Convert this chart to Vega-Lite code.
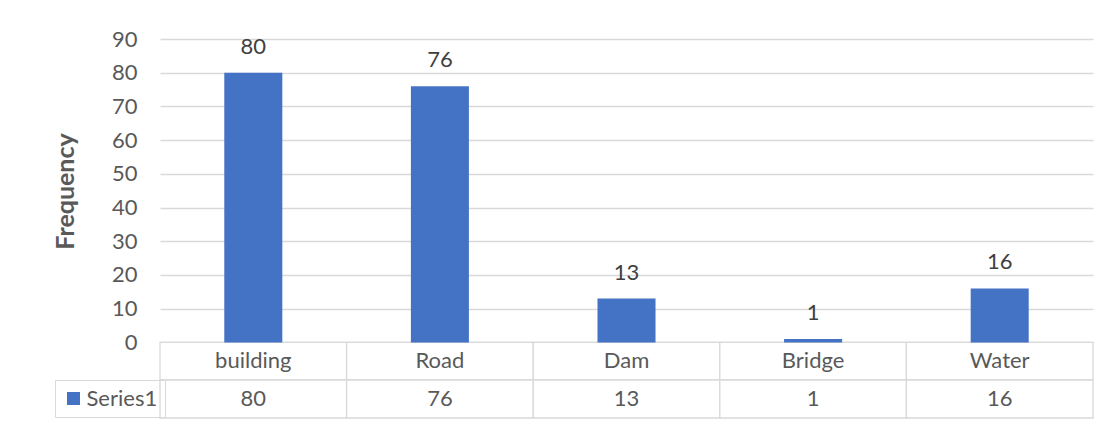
{
  "$schema": "https://vega.github.io/schema/vega-lite/v6.json",
  "width": 933,
  "height": 379,
  "autosize": {"type": "none"},
  "padding": {"left": 160, "top": 39, "right": 14, "bottom": 3},
  "background": "white",
  "config": {"view": {"stroke": null}, "font": "Lato"},
  "data": {"values": [
    {"category": "building", "value": 80},
    {"category": "Road", "value": 76},
    {"category": "Dam", "value": 13},
    {"category": "Bridge", "value": 1},
    {"category": "Water", "value": 16}
  ]},
  "encoding": {
    "x": {"field": "category", "type": "nominal", "sort": null, "scale": {"paddingInner": 0, "paddingOuter": 0}, "axis": null}
  },
  "layer": [
    {
      "mark": {"type": "rect", "fill": "white", "stroke": "#d9d9d9", "strokeWidth": 1.3},
      "encoding": {
        "y": {"datum": 0, "type": "quantitative",
          "scale": {"domain": [-22.43, 90], "nice": false, "zero": false},
          "axis": {"values": [0, 10, 20, 30, 40, 50, 60, 70, 80, 90], "title": "Frequency",
            "titleFontSize": 25, "titleFontWeight": "bold", "titleColor": "#595959", "titleFont": "Lato",
            "titleX": -95, "titleY": 152, "titleAngle": 270, "titleAlign": "center", "titleBaseline": "middle",
            "labelFontSize": 22, "labelColor": "#595959", "labelFont": "Lato", "labelPadding": 23,
            "ticks": false, "domain": false, "grid": true, "gridColor": "#d9d9d9", "gridWidth": 1.3}},
        "y2": {"datum": -11.16}
      }
    },
    {
      "mark": {"type": "rect", "fill": "white", "stroke": "#d9d9d9", "strokeWidth": 1.3},
      "encoding": {
        "y": {"datum": -11.16, "type": "quantitative"},
        "y2": {"datum": -22.43}
      }
    },
    {
      "mark": {"type": "bar", "width": {"band": 0.311}},
      "encoding": {
        "y": {"field": "value", "type": "quantitative"},
        "color": {"datum": "Series1", "scale": {"range": ["#4472C4"]},
          "legend": {"orient": "none", "legendX": -105, "legendY": 341, "title": null,
            "strokeColor": "#d9d9d9", "padding": 7.5, "symbolType": "square", "symbolSize": 169,
            "symbolStrokeWidth": 0, "labelFontSize": 22, "labelColor": "#595959", "labelFont": "Lato", "labelOffset": 2}}
      }
    },
    {
      "mark": {"type": "text", "dy": -26, "fontSize": 22, "color": "#404040", "baseline": "middle"},
      "encoding": {
        "y": {"field": "value", "type": "quantitative"},
        "text": {"field": "value"}
      }
    },
    {
      "mark": {"type": "text", "fontSize": 22, "color": "#595959", "baseline": "middle"},
      "encoding": {
        "y": {"datum": -5.58, "type": "quantitative"},
        "text": {"field": "category"}
      }
    },
    {
      "mark": {"type": "text", "fontSize": 22, "color": "#595959", "baseline": "middle"},
      "encoding": {
        "y": {"datum": -16.8, "type": "quantitative"},
        "text": {"field": "value"}
      }
    }
  ]
}
